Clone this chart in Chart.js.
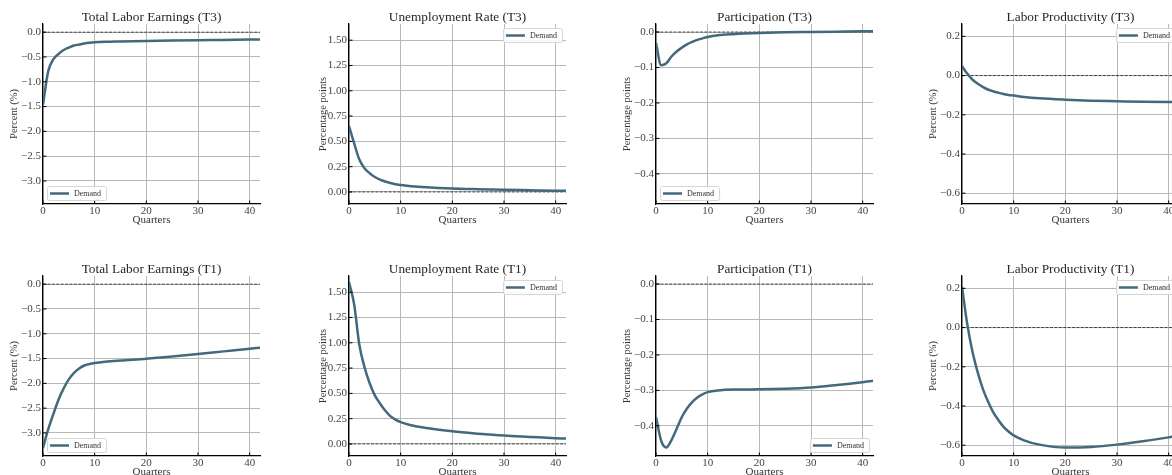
<!DOCTYPE html>
<html><head><meta charset="utf-8">
<script src="https://cdn.jsdelivr.net/npm/chart.js@4.4.1/dist/chart.umd.min.js"></script>
<style>
html,body{margin:0;padding:0;background:#fff;overflow:hidden;width:1172px;height:475px;position:relative;}
canvas{position:absolute;}
</style></head><body>
<script>
// ---- data ----
const quarters = [0,1,2,3,4,5,6,7,8,9,10,12,15,20,25,30,35,40,42];
const earningsT3 = [-1.46,-0.79,-0.55,-0.44,-0.36,-0.31,-0.27,-0.25,-0.23,-0.215,-0.205,-0.195,-0.188,-0.178,-0.17,-0.163,-0.157,-0.15,-0.148];
const unempT3 = [0.65,0.48,0.32,0.235,0.185,0.148,0.122,0.103,0.088,0.077,0.068,0.057,0.046,0.034,0.027,0.021,0.017,0.013,0.012];
const partT3 = [-0.031,-0.094,-0.088,-0.069,-0.055,-0.044,-0.035,-0.028,-0.022,-0.018,-0.014,-0.009,-0.006,-0.003,-0.001,0,0.001,0.002,0.002];
const prodT3 = [0.048,0.01,-0.02,-0.041,-0.058,-0.071,-0.08,-0.087,-0.094,-0.099,-0.102,-0.109,-0.116,-0.123,-0.128,-0.131,-0.134,-0.135,-0.135];
const earningsT1 = [-3.3,-2.93,-2.62,-2.33,-2.1,-1.92,-1.79,-1.7,-1.64,-1.61,-1.59,-1.565,-1.54,-1.505,-1.46,-1.41,-1.355,-1.3,-1.28];
const unempT1 = [1.6,1.38,0.98,0.76,0.6,0.48,0.4,0.33,0.275,0.24,0.215,0.185,0.158,0.125,0.102,0.083,0.07,0.057,0.053];
const partT1 = [-0.375,-0.442,-0.461,-0.44,-0.408,-0.375,-0.351,-0.333,-0.32,-0.311,-0.305,-0.3,-0.2975,-0.297,-0.2955,-0.292,-0.285,-0.277,-0.273];
const prodT1 = [0.208,0.02,-0.12,-0.225,-0.31,-0.375,-0.43,-0.47,-0.505,-0.53,-0.55,-0.575,-0.597,-0.612,-0.609,-0.597,-0.58,-0.56,-0.55];
const seriesLabel = 'Demand';

const quarterTicks = [0,10,20,30,40];
const quarterTickLabels = ['0','10','20','30','40'];
const earningsTicks = [-3.0,-2.5,-2.0,-1.5,-1.0,-0.5,0.0];
const earningsTickLabels = ['\u22123.0','\u22122.5','\u22122.0','\u22121.5','\u22121.0','\u22120.5','0.0'];
const unempTicks = [0,0.25,0.5,0.75,1.0,1.25,1.5];
const unempTickLabels = ['0.00','0.25','0.50','0.75','1.00','1.25','1.50'];
const partTicks = [-0.4,-0.3,-0.2,-0.1,0.0];
const partTickLabels = ['\u22120.4','\u22120.3','\u22120.2','\u22120.1','0.0'];
const prodTicks = [-0.6,-0.4,-0.2,0.0,0.2];
const prodTickLabels = ['\u22120.6','\u22120.4','\u22120.2','0.0','0.2'];

// ---- layout / style ----
const FONT = '"Liberation Serif", "DejaVu Serif", serif';
const LINE_COLOR = '#44697d';
const COL_LEFT = [43, 349, 656, 962];
const ROW_TOP = [0, 252];
const Y_AXIS_W = 43, AX_W = 217, AX_H = 180, TITLE_H = 24, X_AXIS_H = 23, PAD_R = 4;

const panels = [
  {row:0,col:0,title:'Total Labor Earnings (T3)',ylab:'Percent (%)',data:earningsT3,ticks:earningsTicks,labels:earningsTickLabels,min:-3.465,max:0.165,corner:'lower left',ytGap:8.0},
  {row:0,col:1,title:'Unemployment Rate (T3)',ylab:'Percentage points',data:unempT3,ticks:unempTicks,labels:unempTickLabels,min:-0.119,max:1.66,corner:'upper right',ytGap:11.4},
  {row:0,col:2,title:'Participation (T3)',ylab:'Percentage points',data:partT3,ticks:partTicks,labels:partTickLabels,min:-0.485,max:0.0226,corner:'lower left',ytGap:8.3},
  {row:0,col:3,title:'Labor Productivity (T3)',ylab:'Percent (%)',data:prodT3,ticks:prodTicks,labels:prodTickLabels,min:-0.655,max:0.263,corner:'upper right',ytGap:8.0},
  {row:1,col:0,title:'Total Labor Earnings (T1)',ylab:'Percent (%)',data:earningsT1,ticks:earningsTicks,labels:earningsTickLabels,min:-3.465,max:0.165,corner:'lower left',ytGap:8.0},
  {row:1,col:1,title:'Unemployment Rate (T1)',ylab:'Percentage points',data:unempT1,ticks:unempTicks,labels:unempTickLabels,min:-0.119,max:1.66,corner:'upper right',ytGap:11.4},
  {row:1,col:2,title:'Participation (T1)',ylab:'Percentage points',data:partT1,ticks:partTicks,labels:partTickLabels,min:-0.485,max:0.0226,corner:'lower right',ytGap:8.3},
  {row:1,col:3,title:'Labor Productivity (T1)',ylab:'Percent (%)',data:prodT1,ticks:prodTicks,labels:prodTickLabels,min:-0.655,max:0.263,corner:'upper right',ytGap:8.0},
];

const zeroLine = {
  id:'zeroLine',
  beforeDatasetsDraw(chart){
    const {ctx, chartArea:a, scales:{y}} = chart;
    const py = y.getPixelForValue(0);
    ctx.save();
    ctx.strokeStyle = 'rgba(0,0,0,0.85)';
    ctx.lineWidth = 0.8;
    ctx.setLineDash([3,1.4]);
    ctx.beginPath(); ctx.moveTo(a.left, py); ctx.lineTo(a.right, py); ctx.stroke();
    ctx.restore();
  }
};
const tickMarks = {
  id:'tickMarks',
  afterDatasetsDraw(chart){
    const {ctx, chartArea:a, scales:{x,y}} = chart;
    ctx.save();
    ctx.strokeStyle = '#000'; ctx.lineWidth = 1;
    ctx.beginPath();
    x.ticks.forEach(t=>{const px = x.getPixelForValue(t.value); ctx.moveTo(px, a.bottom); ctx.lineTo(px, a.bottom-3.5);});
    y.ticks.forEach(t=>{const py = y.getPixelForValue(t.value); ctx.moveTo(a.left, py); ctx.lineTo(a.left+3.5, py);});
    ctx.stroke();
    ctx.restore();
  }
};
const cornerLegend = {
  id:'cornerLegend',
  afterDatasetsDraw(chart, args, opts){
    const ds = chart.data.datasets[0];
    const {ctx, chartArea:a} = chart;
    ctx.save();
    ctx.font = '8px ' + FONT;
    const tw = ctx.measureText(ds.label).width;
    const w = 3 + 19 + 5 + tw + 5, h = 14, inset = 4;
    const x = opts.corner.includes('right') ? a.right - inset - w : a.left + inset;
    const y = opts.corner.includes('lower') ? a.bottom - inset - h : a.top + inset;
    ctx.beginPath();
    ctx.roundRect(x+0.5, y+0.5, w, h, 2);
    ctx.fillStyle = 'rgba(255,255,255,0.85)'; ctx.fill();
    ctx.strokeStyle = '#d6d6d6'; ctx.lineWidth = 1; ctx.stroke();
    ctx.beginPath();
    ctx.strokeStyle = ds.borderColor; ctx.lineWidth = 2.5;
    ctx.moveTo(x+3, y+h/2+0.5); ctx.lineTo(x+22, y+h/2+0.5); ctx.stroke();
    ctx.fillStyle = '#333'; ctx.textBaseline = 'middle'; ctx.textAlign = 'left';
    ctx.fillText(ds.label, x+27, y+h/2+0.5);
    ctx.restore();
  }
};

panels.forEach(p=>{
  const cv = document.createElement('canvas');
  const W = Y_AXIS_W + AX_W + PAD_R, H = TITLE_H + AX_H + X_AXIS_H;
  cv.width = W; cv.height = H;
  cv.style.width = W+'px'; cv.style.height = H+'px';
  cv.style.left = (COL_LEFT[p.col] - Y_AXIS_W) + 'px';
  cv.style.top = ROW_TOP[p.row] + 'px';
  document.body.appendChild(cv);
  new Chart(cv, {
    type:'line',
    data:{datasets:[{
      label: seriesLabel,
      data: quarters.map((q,i)=>({x:q, y:p.data[i]})),
      borderColor: LINE_COLOR, borderWidth: 2.5,
      pointRadius: 0, fill:false,
      cubicInterpolationMode:'monotone'
    }]},
    options:{
      responsive:false, maintainAspectRatio:false, animation:false,
      devicePixelRatio:1,
      layout:{padding:{left:0,top:0,bottom:0,right:PAD_R}},
      plugins:{
        legend:{display:false},
        tooltip:{enabled:false},
        title:{display:true, fullSize:false, text:p.title, color:'#262626',
          font:{family:FONT, size:13.3, weight:'normal', lineHeight:1},
          padding:{top:10.5, bottom:0.2}},
        cornerLegend:{corner:p.corner}
      },
      scales:{
        x:{type:'linear', min:0, max:42,
          afterBuildTicks:s=>{s.ticks = quarterTicks.map(v=>({value:v}));},
          afterFit:s=>{s.height = X_AXIS_H;},
          ticks:{callback:(v,i)=>quarterTickLabels[i], color:'#444', padding:0.5,
            font:{family:FONT, size:11}, maxRotation:0, autoSkip:false},
          grid:{color:'#b8b8b8', lineWidth:1, drawTicks:false},
          border:{display:true, color:'#000', width:1.25},
          title:{display:true, text:'Quarters', color:'#333',
            font:{family:FONT, size:11, lineHeight:1.2}, padding:{top:0,bottom:0}}
        },
        y:{type:'linear', min:p.min, max:p.max,
          afterBuildTicks:s=>{s.ticks = p.ticks.map(v=>({value:v}));},
          afterFit:s=>{s.width = Y_AXIS_W;},
          ticks:{callback:(v,i)=>p.labels[i], color:'#444', padding:2,
            font:{family:FONT, size:11}, autoSkip:false},
          grid:{color:'#b8b8b8', lineWidth:1, drawTicks:false},
          border:{display:true, color:'#000', width:1.25},
          title:{display:true, text:p.ylab, color:'#333',
            font:{family:FONT, size:10.5, lineHeight:1.2}, padding:{top:p.ytGap,bottom:0}}
        }
      }
    },
    plugins:[zeroLine, tickMarks, cornerLegend]
  });
});
</script>
</body></html>
